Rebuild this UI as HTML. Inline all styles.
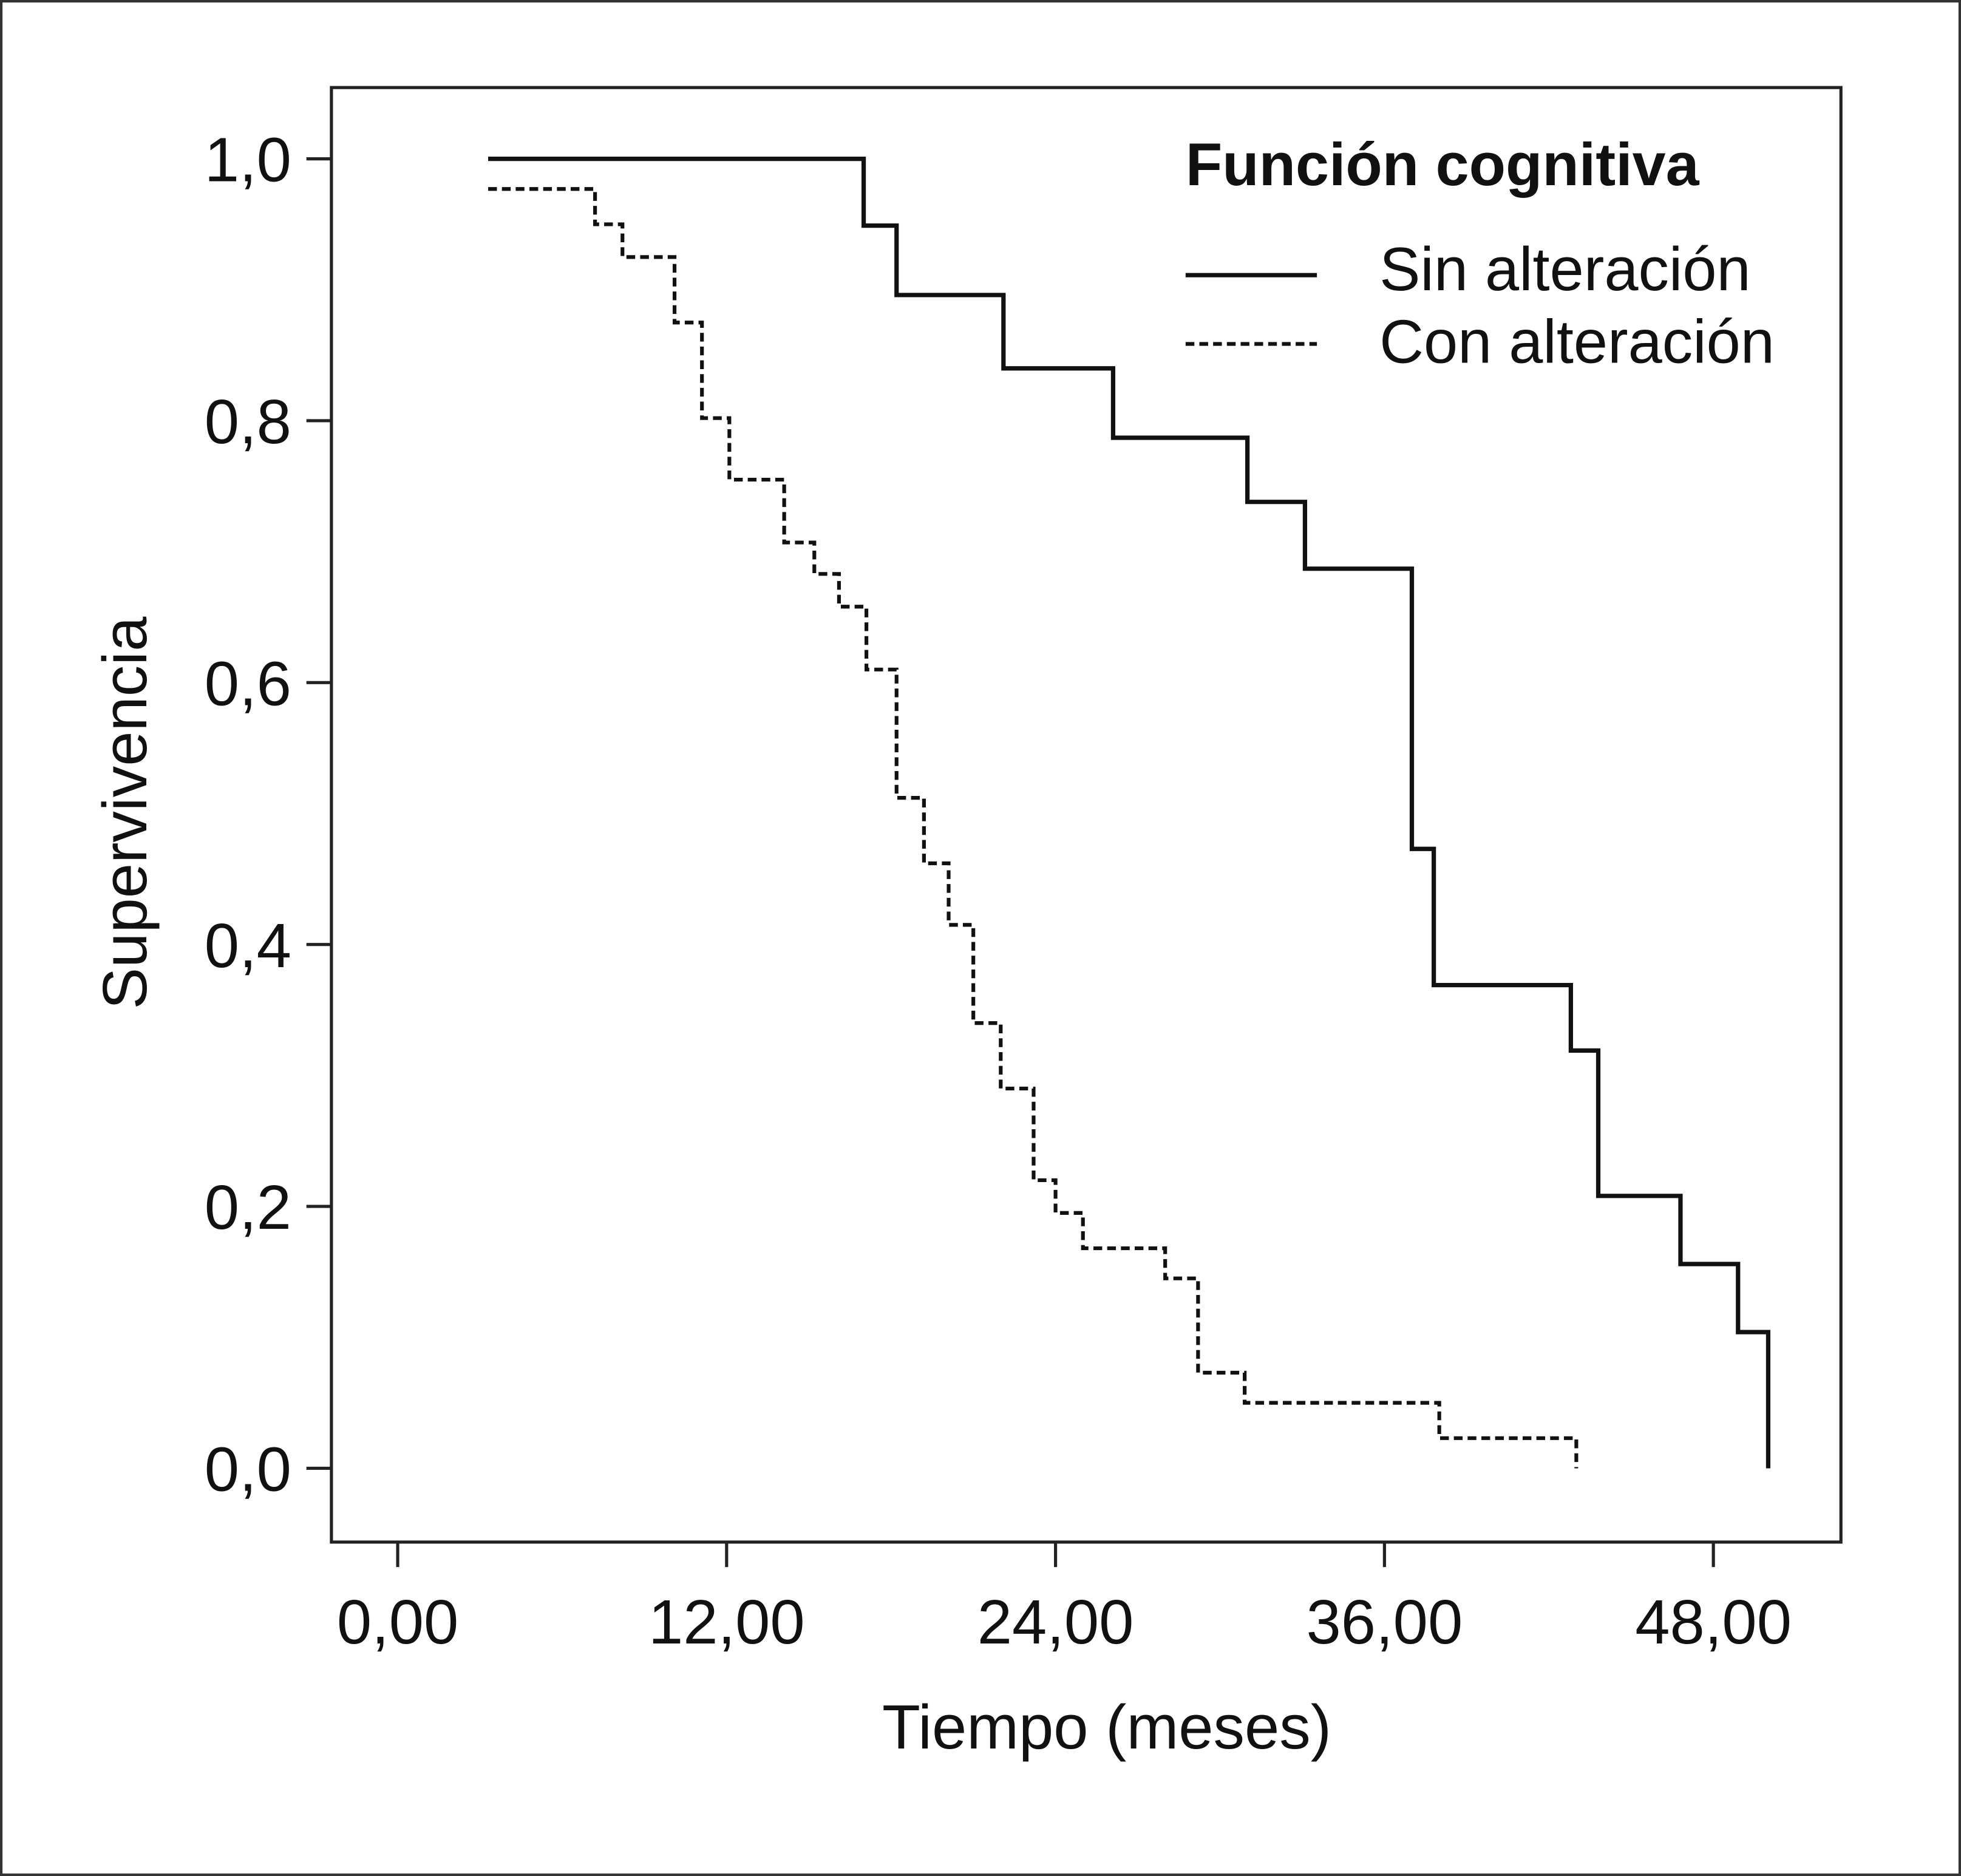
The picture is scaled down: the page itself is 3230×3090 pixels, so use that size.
<!DOCTYPE html>
<html><head><meta charset="utf-8"><style>
html,body{margin:0;padding:0;background:#fff}
svg{display:block}
text{font-family:"Liberation Sans",Arial,sans-serif;fill:#111}
</style></head><body>
<svg id="chart" width="3230" height="3090" viewBox="0 0 1568 1500" preserveAspectRatio="none">
<rect x="1" y="1" width="1566" height="1498" fill="#fff" stroke="#333" stroke-width="2"/>
<rect x="265" y="70" width="1207" height="1163" fill="none" stroke="#222" stroke-width="2.5"/>
<g id="axes"></g>
<g id="series"></g>
<text transform="translate(117,650) rotate(-90)" text-anchor="middle" font-size="50">Supervivencia</text>
<text x="885" y="1398" text-anchor="middle" font-size="50">Tiempo (meses)</text>
<g>
<text x="948" y="148" font-size="48" font-weight="bold">Función cognitiva</text>
<line x1="948" y1="220" x2="1053" y2="220" stroke="#111" stroke-width="3.5"/>
<text x="1103" y="232" font-size="49">Sin alteración</text>
<line x1="948" y1="275" x2="1053" y2="275" stroke="#111" stroke-width="3" stroke-dasharray="7,4"/>
<text x="1103" y="290" font-size="49">Con alteración</text>
</g>
</svg>
<script>
const xTicks=[0,12,24,36,48];
const xTickLabels=["0,00","12,00","24,00","36,00","48,00"];
const yTicks=[0,0.2,0.4,0.6,0.8,1.0];
const yTickLabels=["0,0","0,2","0,4","0,6","0,8","1,0"];
const sinTimes=[3.3,17.0,18.2,22.1,26.1,31.0,33.1,37.0,37.8,42.8,43.8,46.8,48.9,50.0];
const sinSurv=[1.0,0.949,0.896,0.84,0.787,0.738,0.687,0.473,0.369,0.319,0.208,0.156,0.104,0.0];
const conTimes=[3.3,7.2,8.2,10.1,11.1,12.1,14.1,15.2,16.1,17.1,18.2,19.2,20.1,21.0,22.0,23.2,24.0,25.0,28.0,29.2,30.9,38.0,43.0];
const conSurv=[0.977,0.95,0.925,0.875,0.802,0.755,0.707,0.683,0.658,0.61,0.512,0.462,0.415,0.34,0.29,0.22,0.195,0.168,0.145,0.073,0.05,0.023,0.0];
const X=t=>318+t*(1370-318)/48;
const Y=v=>1174-v*(1174-127);
const NS="http://www.w3.org/2000/svg";
const axes=document.getElementById('axes');
xTicks.forEach((t,i)=>{
  const l=document.createElementNS(NS,'line');
  
  
  l.setAttribute('x1',X(t));l.setAttribute('x2',X(t));l.setAttribute('y1',1233);l.setAttribute('y2',1253);
  l.setAttribute('stroke','#222');l.setAttribute('stroke-width','2.5');axes.appendChild(l);
  const tx=document.createElementNS(NS,'text');
  
  
  tx.setAttribute('x',X(t));tx.setAttribute('y',1314);tx.setAttribute('text-anchor','middle');tx.setAttribute('font-size','50');
  tx.textContent=xTickLabels[i];axes.appendChild(tx);
});
yTicks.forEach((v,i)=>{
  const l=document.createElementNS(NS,'line');
  
  
  l.setAttribute('x1',245);l.setAttribute('x2',265);l.setAttribute('y1',Y(v));l.setAttribute('y2',Y(v));
  l.setAttribute('stroke','#222');l.setAttribute('stroke-width','2.5');axes.appendChild(l);
  const tx=document.createElementNS(NS,'text');
  
  
  tx.setAttribute('x',233);tx.setAttribute('y',Y(v)+18);tx.setAttribute('text-anchor','end');tx.setAttribute('font-size','50');
  tx.textContent=yTickLabels[i];axes.appendChild(tx);
});
function stepPath(ts,vs){
  let d='M'+X(ts[0])+','+Y(vs[0]);
  for(let i=1;i<ts.length;i++){d+=' H'+X(ts[i])+' V'+Y(vs[i]);}
  return d;
}
const series=document.getElementById('series');
const p1=document.createElementNS(NS,'path');


p1.setAttribute('d',stepPath(sinTimes,sinSurv));p1.setAttribute('fill','none');p1.setAttribute('stroke','#111');p1.setAttribute('stroke-width','3.5');
series.appendChild(p1);
const p2=document.createElementNS(NS,'path');


p2.setAttribute('d',stepPath(conTimes,conSurv));p2.setAttribute('fill','none');p2.setAttribute('stroke','#111');p2.setAttribute('stroke-width','3');p2.setAttribute('stroke-dasharray','7,4');
series.appendChild(p2);
</script>
</body></html>
